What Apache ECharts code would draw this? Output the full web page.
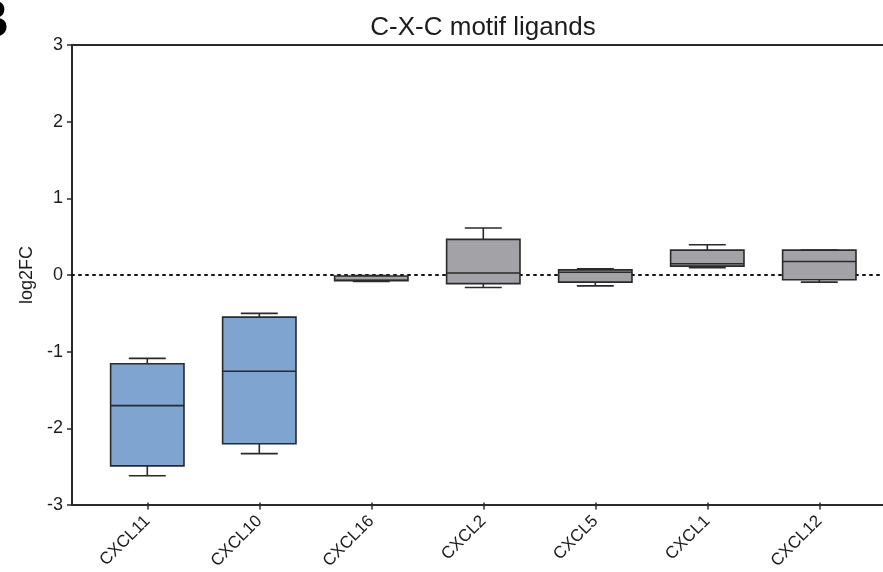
<!DOCTYPE html>
<html>
<head>
<meta charset="utf-8">
<script src="https://cdn.jsdelivr.net/npm/echarts@6/dist/echarts.min.js"></script>
<style>html,body{margin:0;padding:0;background:#fff}#c{width:883px;height:572px}</style>
</head>
<body>
<div id="c"></div>
<script>
const categories = ['CXCL11', 'CXCL10', 'CXCL16', 'CXCL2', 'CXCL5', 'CXCL1', 'CXCL12'];
const minVals = [-2.65, -2.36, -0.10, -0.18, -0.16, 0.08, -0.11];
const q1Vals  = [-2.52, -2.23, -0.09, -0.13, -0.11, 0.10, -0.08];
const medVals = [-1.73, -1.28, -0.085, 0.01, 0.02, 0.13, 0.16];
const q3Vals  = [-1.18, -0.57, -0.03, 0.45, 0.05, 0.31, 0.31];
const maxVals = [-1.11, -0.52, -0.025, 0.60, 0.065, 0.38, 0.31];
const boxColors = ['#7fa4d0', '#7fa4d0', '#a3a2a7', '#a3a2a7', '#a3a2a7', '#a3a2a7', '#a3a2a7'];
const yMin = -3, yMax = 3, yStep = 1;

const FONT = 'Liberation Sans, Arial, Helvetica, sans-serif';
const INK = '#1c1c1c';
const STROKE = '#2a2a2a';

const boxData = categories.map((c, i) => [i, minVals[i], q1Vals[i], medVals[i], q3Vals[i], maxVals[i]]);

const chart = echarts.init(document.getElementById('c'), null, {renderer: 'canvas'});
chart.setOption({
  animation: false,
  backgroundColor: '#fff',
  title: {
    text: 'C-X-C motif ligands',
    left: 478, top: 10, textAlign: 'center',
    textStyle: {fontFamily: FONT, fontSize: 26, fontWeight: 'normal', color: INK}
  },
  graphic: [{
    type: 'text', x: -30, y: 49,
    style: {text: 'B', font: 'bold 54px ' + FONT, fill: '#000', verticalAlign: 'bottom'}
  }],
  grid: [
    {left: 72, right: 0, top: 45, bottom: 67, containLabel: false},
    {left: 91.3, right: 7.7, top: 45, bottom: 67, containLabel: false}
  ],
  xAxis: [
    {gridIndex: 0, type: 'value', min: 0, max: 1, position: 'bottom',
      axisLine: {show: true, onZero: false, lineStyle: {color: STROKE, width: 2}},
      axisTick: {show: false}, axisLabel: {show: false}, splitLine: {show: false}},
    {gridIndex: 0, type: 'value', min: 0, max: 1, position: 'top',
      axisLine: {show: true, onZero: false, lineStyle: {color: STROKE, width: 2}},
      axisTick: {show: false}, axisLabel: {show: false}, splitLine: {show: false}},
    {gridIndex: 1, type: 'category', data: categories, position: 'bottom',
      axisLine: {show: false, onZero: false},
      axisTick: {show: true, alignWithLabel: true, length: 7, lineStyle: {color: STROKE, width: 1.5}},
      axisLabel: {rotate: 45, margin: 16, fontFamily: FONT, fontSize: 17, color: INK, interval: 0},
      splitLine: {show: false}}
  ],
  yAxis: [
    {gridIndex: 0, type: 'value', min: yMin, max: yMax, interval: yStep,
      name: 'log2FC', nameLocation: 'middle', nameGap: 35, nameRotate: 90,
      nameTextStyle: {fontFamily: FONT, fontSize: 18, color: INK},
      axisLine: {show: true, onZero: false, lineStyle: {color: STROKE, width: 2}},
      axisTick: {show: true, length: 5, lineStyle: {color: STROKE, width: 1.5}},
      axisLabel: {fontFamily: FONT, fontSize: 18, color: INK, margin: 9},
      splitLine: {show: false}},
    {gridIndex: 1, type: 'value', min: yMin, max: yMax, interval: yStep, show: false,
      splitLine: {show: false}}
  ],
  series: [
    {
      type: 'line', xAxisIndex: 0, yAxisIndex: 0, data: [], silent: true, z: 1,
      markLine: {
        silent: true, symbol: 'none', label: {show: false}, z: 1,
        lineStyle: {color: '#111', width: 2, type: [2, 5], cap: 'round'},
        data: [{yAxis: 0}]
      }
    },
    {
      type: 'custom', xAxisIndex: 2, yAxisIndex: 1, data: boxData, z: 5,
      encode: {x: 0, y: [1, 2, 3, 4, 5]},
      renderItem: function (params, api) {
        const i = api.value(0);
        const band = api.size([1, 0])[0];
        const bw = band * 0.655, cw = band * 0.33;
        const pMin = api.coord([i, api.value(1)]);
        const pQ1 = api.coord([i, api.value(2)]);
        const pMed = api.coord([i, api.value(3)]);
        const pQ3 = api.coord([i, api.value(4)]);
        const pMax = api.coord([i, api.value(5)]);
        const x = pMed[0];
        const ls = {stroke: STROKE, lineWidth: 1.6};
        return {
          type: 'group', children: [
            {type: 'line', shape: {x1: x, y1: pMax[1], x2: x, y2: pQ3[1]}, style: ls},
            {type: 'line', shape: {x1: x, y1: pMin[1], x2: x, y2: pQ1[1]}, style: ls},
            {type: 'line', shape: {x1: x - cw / 2, y1: pMax[1], x2: x + cw / 2, y2: pMax[1]}, style: ls},
            {type: 'line', shape: {x1: x - cw / 2, y1: pMin[1], x2: x + cw / 2, y2: pMin[1]}, style: ls},
            {type: 'rect', shape: {x: x - bw / 2, y: pQ3[1], width: bw, height: pQ1[1] - pQ3[1]},
              style: {fill: boxColors[params.dataIndex], stroke: STROKE, lineWidth: 1.6}},
            {type: 'line', shape: {x1: x - bw / 2, y1: pMed[1], x2: x + bw / 2, y2: pMed[1]}, style: ls}
          ]
        };
      }
    }
  ]
});
</script>
</body>
</html>
